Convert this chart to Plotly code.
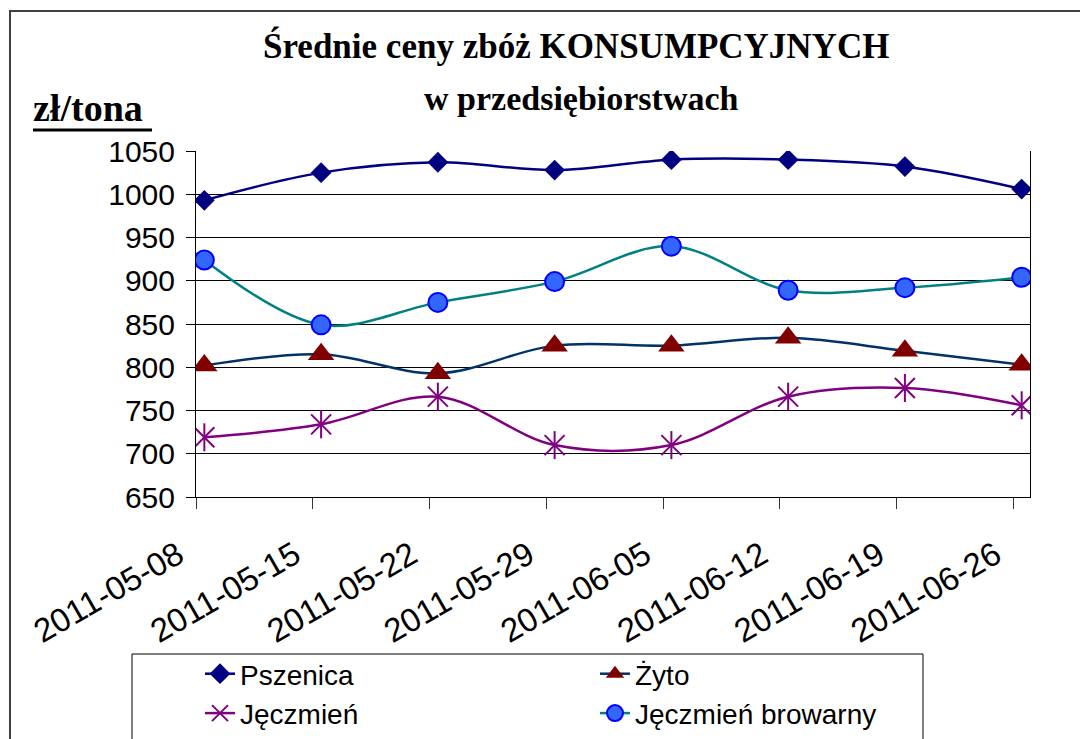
import pandas as pd
import plotly.graph_objects as go

# ---- data ----
dates = ["2011-05-08", "2011-05-15", "2011-05-22", "2011-05-29",
         "2011-06-05", "2011-06-12", "2011-06-19", "2011-06-26"]
tick_labels = ["2011-05-08", "2011-05-15", "2011-05-22", "2011-05-29",
               "2011-06-05", "2011-06-12", "2011-06-19", "2011-06-26"]
pszenica = [993, 1025, 1037, 1028, 1040, 1040, 1032, 1006]
zyto = [802, 815, 793, 825, 825, 834, 819, 803]
jeczmien = [719, 734, 766, 710, 710, 766, 776, 756]
jeczmien_browarny = [924, 849, 875, 899, 940, 889, 892, 904]

# points sit in the middle of each day bucket (Excel date axis)
x_pts = pd.to_datetime(dates) + pd.Timedelta(hours=12)

W, H = 1080, 739
L, R, T, B = 196, 50, 151, 242
PW, PH = W - L - R, H - T - B


def px(x):
    return (x - L) / PW


def py(y):
    return 1 - (y - T) / PH


SANS = "Liberation Sans, Arial, sans-serif"
SERIF = "Liberation Serif, Times New Roman, serif"

fig = go.Figure()

fig.add_trace(go.Scatter(
    x=x_pts, y=pszenica, name="Pszenica", mode="lines+markers",
    line=dict(color="#000080", width=2.5, shape="spline", smoothing=1),
    marker=dict(symbol="diamond", size=16, color="#000080")))

fig.add_trace(go.Scatter(
    x=x_pts, y=zyto, name="Żyto", mode="lines+markers",
    line=dict(color="#003366", width=2.5, shape="spline", smoothing=1),
    marker=dict(symbol="triangle-up", size=23, color="#800000")))

fig.add_trace(go.Scatter(
    x=x_pts, y=jeczmien, name="Jęczmień", mode="lines+markers",
    line=dict(color="#800080", width=2.5, shape="spline", smoothing=1),
    marker=dict(symbol="x-thin-open", size=20, color="#800080",
                line=dict(color="#800080", width=2))))

fig.add_trace(go.Scatter(
    x=x_pts, y=jeczmien_browarny, name="Jęczmień browarny", mode="lines+markers",
    line=dict(color="#008080", width=2.5, shape="spline", smoothing=1),
    marker=dict(symbol="circle", size=19, color="#3366FF",
                line=dict(color="#0000FF", width=2))))

# vertical stroke of the star markers for Jęczmień
fig.add_trace(go.Scatter(
    x=x_pts, y=jeczmien, mode="markers", showlegend=False, hoverinfo="skip",
    marker=dict(symbol="line-ns-open", size=20, color="#800080",
                line=dict(color="#800080", width=2))))

# overlay axis to get crossing tick marks
fig.update_layout(
    xaxis2=dict(overlaying="x", matches="x", type="date", anchor="y",
                side="bottom", showgrid=False, showline=False,
                ticks="inside", ticklen=11, tickcolor="#333333",
                tickvals=dates, showticklabels=False, zeroline=False,
                automargin=False),
)

fig.update_layout(
    width=W, height=H,
    margin=dict(l=L, r=R, t=T, b=B, autoexpand=False),
    paper_bgcolor="white", plot_bgcolor="white",
    showlegend=True,
    xaxis=dict(
        type="date",
        range=["2011-05-08", "2011-06-27"],
        tickvals=dates, ticktext=tick_labels,
        tickangle=-30,
        ticks="outside", ticklen=11, tickcolor="#333333", tickwidth=1,
        showgrid=False, zeroline=False,
        showline=True, linecolor="black", linewidth=1, mirror=False,
        tickfont=dict(family=SANS, size=33, color="black"),
        ticklabelstandoff=14, ticklabelshift=-18,
        automargin=False,
    ),
    yaxis=dict(
        range=[650, 1050], dtick=50, tick0=650,
        ticks="outside", ticklen=9, tickcolor="black",
        showgrid=True, gridcolor="black", gridwidth=1,
        zeroline=False,
        showline=True, linecolor="black", linewidth=1, mirror=True,
        tickfont=dict(family=SANS, size=30, color="black"),
        ticklabelstandoff=5,
        automargin=False,
    ),
    legend=dict(
        orientation="h",
        x=px(200), y=py(649), xanchor="left", yanchor="top",
        entrywidth=350, entrywidthmode="pixels",
        font=dict(family=SANS, size=28, color="black"),
        bgcolor="rgba(0,0,0,0)", borderwidth=0,
        traceorder="normal",
    ),
    annotations=[
        dict(text="<b>Średnie ceny zbóż KONSUMPCYJNYCH</b>",
             xref="paper", yref="paper", x=px(576), y=py(45.5),
             xanchor="center", yanchor="middle", showarrow=False,
             font=dict(family=SERIF, size=35, color="black")),
        dict(text="<b>w przedsiębiorstwach</b>",
             xref="paper", yref="paper", x=px(581), y=py(98.5),
             xanchor="center", yanchor="middle", showarrow=False,
             font=dict(family=SERIF, size=34, color="black")),
        dict(text="<b>zł/tona</b>",
             xref="paper", yref="paper", x=px(31), y=py(108),
             xanchor="left", yanchor="middle", showarrow=False,
             font=dict(family=SERIF, size=38, color="black")),
    ],
    shapes=[
        # chart area border
        dict(type="rect", xref="paper", yref="paper",
             x0=px(10), x1=px(1090), y0=py(760), y1=py(11),
             line=dict(color="#404040", width=2), layer="below"),
        # legend box
        dict(type="rect", xref="paper", yref="paper",
             x0=px(132), x1=px(923), y0=py(760), y1=py(654),
             line=dict(color="black", width=1)),
        # underline of the unit label
        dict(type="line", xref="paper", yref="paper",
             x0=px(33), x1=px(152), y0=py(130), y1=py(130),
             line=dict(color="black", width=3)),
    ],
)

fig.write_html("out.html",
               config={"displayModeBar": False},
               post_script="document.body.style.margin='0';")
